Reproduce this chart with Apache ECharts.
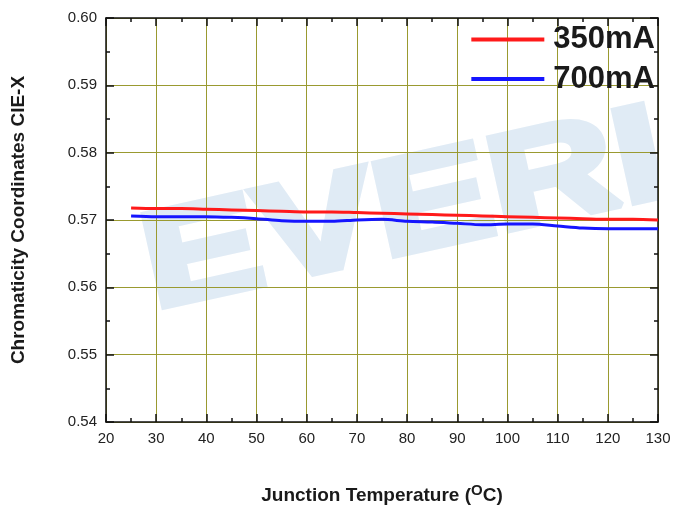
<!DOCTYPE html>
<html>
<head>
<meta charset="utf-8">
<script src="https://cdn.jsdelivr.net/npm/echarts@6/dist/echarts.min.js"></script>
<style>html,body{margin:0;padding:0;background:#fff;}#c{width:675px;height:514px;}</style>
</head>
<body>
<div id="c"></div>
<script>
var temps = [25,30,35,40,45,50,55,60,65,70,75,80,85,90,95,100,105,110,115,120,125,130];
var cie350 = [0.5718,0.5717,0.5717,0.5716,0.5715,0.5714,0.5713,0.5712,0.5712,0.5711,0.5710,0.5709,0.5708,0.5707,0.5706,0.5705,0.5704,0.5703,0.5702,0.5701,0.5701,0.5700];
var cie700 = [0.5706,0.5705,0.5705,0.5705,0.5704,0.5702,0.5699,0.5698,0.5698,0.5700,0.5701,0.5698,0.5697,0.5695,0.5693,0.5694,0.5694,0.5691,0.5688,0.5687,0.5687,0.5687];
var seriesNames = ['350mA','700mA'];

function pairs(xs, ys){ return xs.map(function(x,i){ return [x, ys[i]]; }); }

var chart = echarts.init(document.getElementById('c'));
var font = 'Liberation Sans, Arial, sans-serif';
var gridColor = '#9a9a30';
var axisCommon = {
  axisLine:{show:true,lineStyle:{color:'#111',width:1.5}},
  axisTick:{show:true,inside:true,length:8,lineStyle:{color:'#111',width:1.5}},
  minorTick:{show:true,splitNumber:2,length:4,lineStyle:{color:'#111',width:1.5}}
};
chart.setOption({
  animation:false,
  backgroundColor:'#fff',
  grid:{left:106,right:17,top:18,bottom:92,containLabel:false},
  graphic:[
    {type:'text',x:146,y:272,rotation:0.218,scaleX:1.3,scaleY:1,z:-2,silent:true,
     style:{text:'EVERLIGHT',font:'bold 136px Liberation Sans, Arial, sans-serif',fill:'#e0ebf5',
            stroke:'#e0ebf5',lineWidth:7,align:'left',verticalAlign:'middle'}},
    {type:'rect',z:-1,silent:true,shape:{x:659,y:0,width:20,height:514},style:{fill:'#fff'}}
  ],
  legend:{
    orient:'vertical',right:15,top:19,itemWidth:73,itemHeight:4,itemGap:8.5,icon:'rect',
    textStyle:{fontFamily:font,fontWeight:'bold',fontSize:31,color:'#1a1a1a',padding:[0,0,0,4]},
    data:seriesNames
  },
  xAxis:[
    Object.assign({type:'value',min:20,max:130,interval:10,position:'bottom',
      axisLabel:{fontFamily:font,fontSize:15,color:'#222',margin:9},
      splitLine:{show:true,lineStyle:{color:gridColor,width:1}},
      name:'Junction Temperature ({sup|O}C)',nameLocation:'middle',nameGap:61,
      nameTextStyle:{fontFamily:font,fontWeight:'bold',fontSize:19,color:'#1a1a1a',
        rich:{sup:{fontFamily:font,fontWeight:'bold',fontSize:15,color:'#1a1a1a',verticalAlign:'top',padding:[0,0,10,0]}}}
    },axisCommon),
    Object.assign({type:'value',min:20,max:130,interval:10,position:'top',
      axisLabel:{show:false},splitLine:{show:false}},axisCommon)
  ],
  yAxis:[
    Object.assign({type:'value',min:0.54,max:0.60,interval:0.01,position:'left',
      axisLabel:{fontFamily:font,fontSize:15,color:'#222',margin:9,formatter:function(v){return v.toFixed(2);}},
      splitLine:{show:true,lineStyle:{color:gridColor,width:1}},
      name:'Chromaticity Coordinates CIE-X',nameLocation:'middle',nameGap:78,
      nameTextStyle:{fontFamily:font,fontWeight:'bold',fontSize:19,color:'#1a1a1a'}
    },axisCommon),
    Object.assign({type:'value',min:0.54,max:0.60,interval:0.01,position:'right',
      axisLabel:{show:false},splitLine:{show:false}},axisCommon)
  ],
  series:[
    {name:seriesNames[0],type:'line',data:pairs(temps,cie350),symbol:'none',smooth:0.3,
     lineStyle:{color:'#ff1a1a',width:3},itemStyle:{color:'#ff1a1a'},z:3},
    {name:seriesNames[1],type:'line',data:pairs(temps,cie700),symbol:'none',smooth:0.3,
     lineStyle:{color:'#1515ff',width:3},itemStyle:{color:'#1515ff'},z:3}
  ]
});
</script>
</body>
</html>
